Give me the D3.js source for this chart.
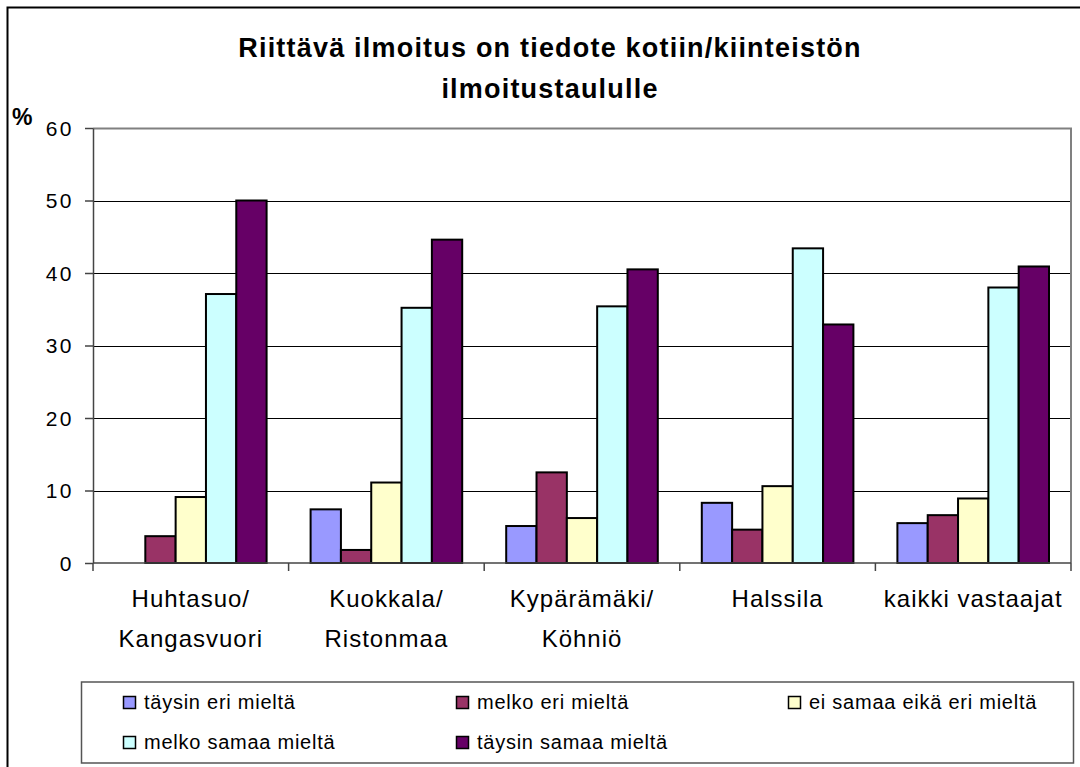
<!DOCTYPE html>
<html lang="fi">
<head>
    <meta charset="UTF-8">
    <title>Riittävä ilmoitus</title>
    <script src="https://d3js.org/d3.v7.min.js"></script>
    <style>
        body { margin: 0; background: #fff; }
        svg text { font-family: "Liberation Sans", Arial, sans-serif; fill: #000; }
    </style>
</head>
<body>
    <div id="chart"></div>

    <script>
        // Data
        const categories = [
            ["Huhtasuo/", "Kangasvuori"],
            ["Kuokkala/", "Ristonmaa"],
            ["Kypärämäki/", "Köhniö"],
            ["Halssila"],
            ["kaikki vastaajat"]
        ];
        const seriesNames = ["täysin eri mieltä", "melko eri mieltä", "ei samaa eikä eri mieltä",
                             "melko samaa mieltä", "täysin samaa mieltä"];
        const seriesColors = ["#9999ff", "#993366", "#ffffcc", "#ccffff", "#660066"];

        const taysinEri   = [0,    7.4,  5.1,  8.3,  5.5];
        const melkoEri    = [3.7,  1.8,  12.5, 4.6,  6.6];
        const eiSamaa     = [9.1,  11.1, 6.2,  10.6, 8.9];
        const melkoSamaa  = [37.1, 35.2, 35.4, 43.4, 38.0];
        const taysinSamaa = [50.0, 44.6, 40.5, 32.9, 40.9];
        const seriesValues = [taysinEri, melkoEri, eiSamaa, melkoSamaa, taysinSamaa];

        const yTicks = [0, 10, 20, 30, 40, 50, 60];

        const W = 1080, H = 767;
        const plot = {left: 93, right: 1071, top: 128, bottom: 563};

        const svg = d3.select("#chart").append("svg")
            .attr("width", W).attr("height", H);

        // outer frame
        svg.append("rect")
            .attr("x", 7.5).attr("y", 7.5).attr("width", W + 20).attr("height", H + 20)
            .attr("fill", "none").attr("stroke", "#000").attr("stroke-width", 2);

        // Scales
        const y = d3.scaleLinear().domain([0, 60]).range([plot.bottom, plot.top]);
        const x = d3.scaleBand().domain(d3.range(categories.length))
            .range([plot.left, plot.right]).paddingInner(0).paddingOuter(0);
        const xs = d3.scaleBand().domain(d3.range(seriesNames.length))
            .range([22, x.bandwidth() - 22]);

        // gridlines
        svg.append("g").selectAll("line")
            .data(yTicks.filter(t => t > 0 && t < 60)).enter().append("line")
            .attr("x1", plot.left).attr("x2", plot.right)
            .attr("y1", d => Math.round(y(d)) + 0.5).attr("y2", d => Math.round(y(d)) + 0.5)
            .attr("stroke", "#000").attr("stroke-width", 1);

        // plot area border top/right
        svg.append("path")
            .attr("d", `M${plot.left},${plot.top + 0.5}H${plot.right}V${plot.bottom}`)
            .attr("fill", "none").attr("stroke", "#808080").attr("stroke-width", 2);

        // Bars
        const groups = svg.append("g").selectAll("g")
            .data(categories).enter().append("g")
            .attr("transform", (d, i) => `translate(${x(i)},0)`);

        groups.selectAll("rect")
            .data((d, i) => seriesValues.map((arr, s) => ({s: s, v: arr[i]})).filter(e => e.v > 0))
            .enter().append("rect")
            .attr("x", d => xs(d.s))
            .attr("width", xs.bandwidth())
            .attr("y", d => y(d.v))
            .attr("height", d => y(0) - y(d.v))
            .attr("fill", d => seriesColors[d.s])
            .attr("stroke", "#000").attr("stroke-width", 2);

        // Y axis
        const yAxis = svg.append("g")
            .attr("transform", `translate(${plot.left},0)`)
            .call(d3.axisLeft(y).tickValues(yTicks).tickSize(8).tickSizeOuter(0).tickFormat(d3.format("d")));
        yAxis.select(".domain").attr("stroke", "#444").attr("stroke-width", 1.5);
        yAxis.selectAll(".tick line").attr("stroke", "#444").attr("stroke-width", 1.5);
        yAxis.selectAll(".tick text")
            .attr("x", -19).attr("dy", null).attr("y", 7)
            .style("font-size", "21px").style("letter-spacing", "2.5px")
            .attr("font-family", null);

        // X axis
        const xAxis = svg.append("g")
            .attr("transform", `translate(0,${plot.bottom})`);
        xAxis.append("line")
            .attr("x1", plot.left).attr("x2", plot.right)
            .attr("stroke", "#444").attr("stroke-width", 1.5);
        xAxis.selectAll(".xt")
            .data(d3.range(categories.length + 1)).enter().append("line")
            .attr("class", "xt")
            .attr("x1", d => d < categories.length ? x(d) : plot.right)
            .attr("x2", d => d < categories.length ? x(d) : plot.right)
            .attr("y1", 0).attr("y2", 8)
            .attr("stroke", "#444").attr("stroke-width", 1.5);

        const catLabels = xAxis.selectAll(".cat")
            .data(categories).enter().append("text")
            .attr("class", "cat")
            .attr("text-anchor", "middle")
            .style("font-size", "24px").style("letter-spacing", "1px");
        catLabels.selectAll("tspan")
            .data((d, i) => d.map(line => ({line: line, i: i}))).enter().append("tspan")
            .attr("x", d => x(d.i) + x.bandwidth() / 2)
            .attr("y", (d, k) => 44 + k * 40)
            .text(d => d.line);

        // % label
        svg.append("text").attr("x", 12).attr("y", 125)
            .style("font-size", "23px").style("font-weight", "bold").text("%");

        // Title
        const title = svg.append("text")
            .attr("text-anchor", "middle")
            .style("font-size", "27px").style("font-weight", "bold").style("letter-spacing", "1.2px");
        title.append("tspan").attr("x", 550).attr("y", 57).text("Riittävä ilmoitus on tiedote kotiin/kiinteistön");
        title.append("tspan").attr("x", 550).attr("y", 98).text("ilmoitustaululle");

        // Legend
        const legend = svg.append("g");
        legend.append("rect")
            .attr("x", 81.5).attr("y", 682).attr("width", 992).attr("height", 81)
            .attr("fill", "#fff").attr("stroke", "#555").attr("stroke-width", 1.5);

        const legendCols = [123, 456, 788];
        const items = legend.selectAll(".item")
            .data(seriesNames).enter().append("g")
            .attr("class", "item")
            .attr("transform", (d, i) => `translate(${legendCols[i % 3]},${i < 3 ? 696 : 736})`);
        items.append("rect")
            .attr("x", 0.5).attr("y", 0.5).attr("width", 12).attr("height", 12)
            .attr("fill", (d, i) => seriesColors[i])
            .attr("stroke", "#000").attr("stroke-width", 1.5);
        items.append("text")
            .attr("x", 21).attr("y", 12.5)
            .style("font-size", "20px").style("letter-spacing", "0.75px")
            .text(d => d);
    </script>
</body>
</html>
